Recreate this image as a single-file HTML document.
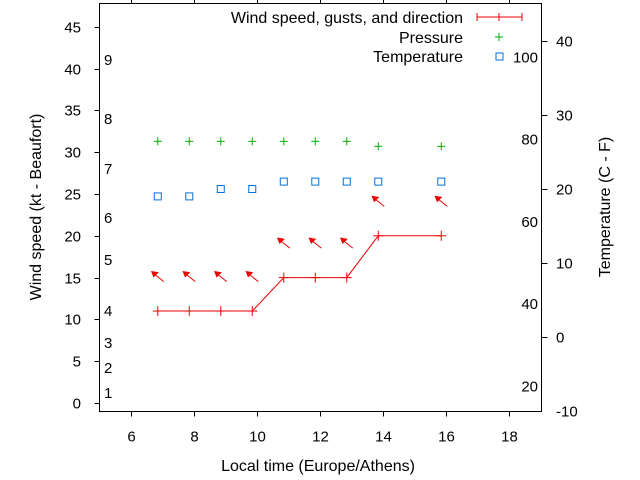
<!DOCTYPE html>
<html><head><meta charset="utf-8"><style>
html,body{margin:0;padding:0;background:#fff;}
svg{display:block;font-family:"Liberation Sans",sans-serif;}
</style></head><body>
<svg id="chart" width="640" height="480" viewBox="0 0 640 480" xmlns="http://www.w3.org/2000/svg">
<g id="axes"></g>
<g id="marks"></g>
<g id="legend">
  <text x="463" y="23" text-anchor="end" font-size="16">Wind speed, gusts, and direction</text>
  <g stroke="#e00" stroke-width="1">
    <line x1="477" y1="17" x2="522" y2="17"/><line x1="477" y1="13" x2="477" y2="21"/><line x1="522" y1="13" x2="522" y2="21"/><line x1="499" y1="13" x2="499" y2="21"/>
  </g>
  <text x="463" y="43" text-anchor="end" font-size="16">Pressure</text>
  <g stroke="#0a0"><line x1="495" y1="37" x2="503" y2="37"/><line x1="499" y1="33" x2="499" y2="41"/></g>
  <text x="463" y="62" text-anchor="end" font-size="16">Temperature</text>
  <rect x="496" y="53" width="7" height="7" fill="none" stroke="#0070e0"/>
</g>
<text x="318" y="471" text-anchor="middle" font-size="16">Local time (Europe/Athens)</text>
<text transform="translate(41,207) rotate(-90)" text-anchor="middle" font-size="16">Wind speed (kt - Beaufort)</text>
<text transform="translate(610,207) rotate(-90)" text-anchor="middle" font-size="16">Temperature (C - F)</text>
</svg>
<script>
const hours = [6.85, 7.85, 8.85, 9.85, 10.85, 11.85, 12.85, 13.85, 15.85];
const windKt = [11, 11, 11, 11, 15, 15, 15, 20, 20];
const gustKt = [15, 15, 15, 15, 19, 19, 19, 24, 24];
const pressure = [31.3, 31.3, 31.3, 31.3, 31.3, 31.3, 31.3, 30.7, 30.7];
const tempC = [19, 19, 20, 20, 21, 21, 21, 21, 21];
const xTicks = [6, 8, 10, 12, 14, 16, 18];
const yTicks = [0, 5, 10, 15, 20, 25, 30, 35, 40, 45];
const y2Ticks = [-10, 0, 10, 20, 30, 40];
const fLabels = [20, 40, 60, 80, 100];
const beaufortLabels = [1, 2, 3, 4, 5, 6, 7, 8, 9];
const beaufortKt = [1.2, 4.2, 7.2, 11, 17.1, 22.1, 28, 34, 41];

const L=99.5, R=541.5, T=3.5, B=411.5;
const xS = h => 131 + (h-6)*31.5;
const yS = k => 403 - k*8.36;
const y2S = c => 337 - c*7.4;
const NS='http://www.w3.org/2000/svg';
function mk(tag, attrs, parent){const e=document.createElementNS(NS,tag);for(const k in attrs)e.setAttribute(k,attrs[k]);parent.appendChild(e);return e;}
const ax=document.getElementById('axes'), mg=document.getElementById('marks');

const frame=mk('rect',{x:L,y:T,width:R-L,height:B-T,fill:'none',stroke:'#000','stroke-width':1},ax);



xTicks.forEach(v=>{const x=Math.round(xS(v))+0.5;
  mk('line',{x1:x,y1:B,x2:x,y2:B+5,stroke:'#000'},ax);
  mk('line',{x1:x,y1:T,x2:x,y2:T-4,stroke:'#000'},ax);
  const t=mk('text',{x:x,y:B+30,'text-anchor':'middle','font-size':15},ax);t.textContent=v;
  
  });
yTicks.forEach(v=>{const y=Math.round(yS(v))+0.5;
  mk('line',{x1:L-5,y1:y,x2:L,y2:y,stroke:'#000'},ax);
  const t=mk('text',{x:81,y:y+5,'text-anchor':'end','font-size':15},ax);t.textContent=v;
  
  });
beaufortLabels.forEach((v,i)=>{
  const t=mk('text',{x:104,y:yS(beaufortKt[i])+5,'font-size':15},ax);t.textContent=v;
  
  });
y2Ticks.forEach(v=>{const y=Math.round(y2S(v))+0.5;
  if(v!==-10) mk('line',{x1:R,y1:y,x2:R+6,y2:y,stroke:'#000'},ax);
  const t=mk('text',{x:556,y:y+5,'font-size':15},ax);t.textContent=v;
  
  });
fLabels.forEach(f=>{const c=(f-32)*5/9;
  const t=mk('text',{x:538,y:y2S(c)+5,'text-anchor':'end','font-size':15},ax);t.textContent=f;
  
  });

const pts=hours.map((h,i)=>xS(h)+','+yS(windKt[i])).join(' ');
const wl=mk('polyline',{points:pts,fill:'none',stroke:'#e00','stroke-width':1},mg);


hours.forEach((h,i)=>{const x=xS(h),y=yS(windKt[i]);
  const g=mk('g',{stroke:'#e00'},mg);
  
  
  mk('line',{x1:x-5,y1:y,x2:x+5,y2:y},g);mk('line',{x1:x,y1:y-5,x2:x,y2:y+5},g);
  const gy=yS(gustKt[i]);
  const a=mk('g',{},mg);
  
  
  mk('line',{x1:x+6,y1:gy+4,x2:x-4,y2:gy-4,stroke:'#e00'},a);
  mk('polygon',{points:(x-6)+','+(gy-6)+' '+(x)+','+(gy-5)+' '+(x-4)+','+(gy-1),fill:'#e00',stroke:'#e00'},a);
  const p=mk('g',{stroke:'#0a0'},mg);
  
  
  const py=yS(pressure[i]);
  mk('line',{x1:x-4,y1:py,x2:x+4,y2:py},p);mk('line',{x1:x,y1:py-4,x2:x,y2:py+4},p);
  const ty=y2S(tempC[i]);
  const r=mk('rect',{x:x-3.5,y:ty-3.5,width:7,height:7,fill:'none',stroke:'#0070e0'},mg);
  
  
});
</script>
</body></html>
